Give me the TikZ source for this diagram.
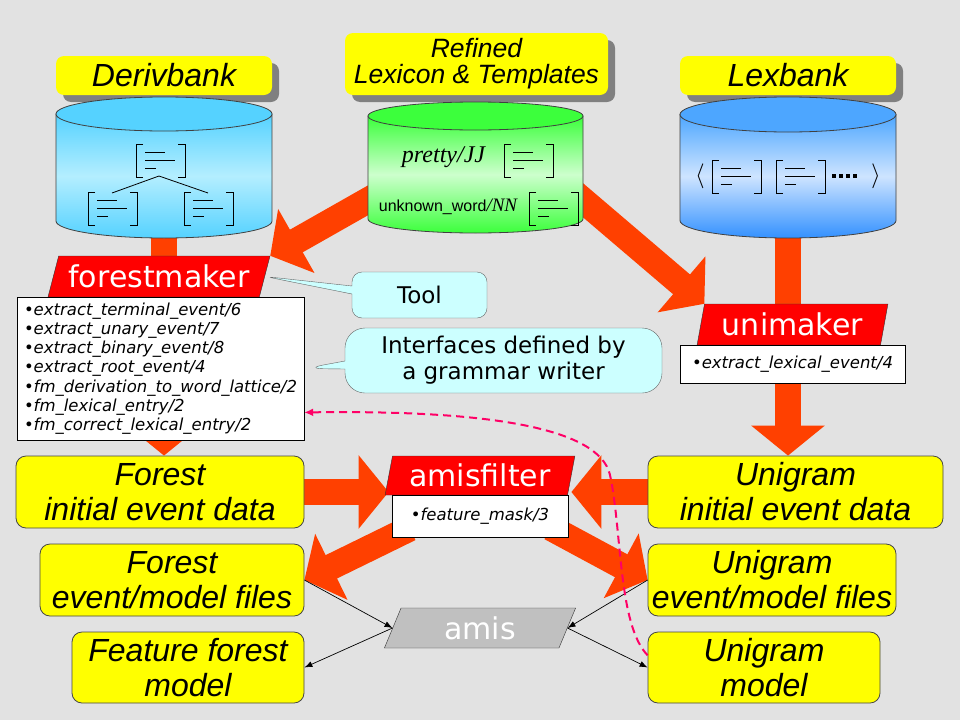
\documentclass[tikz,border=0pt]{standalone}
\usepackage{fontspec}
\setmainfont{Liberation Sans}
\newfontfamily\verdana{DejaVu Sans}
\newfontfamily\timesf{Liberation Serif}
\usetikzlibrary{arrows.meta,calc,positioning}
\usetikzlibrary{shapes.geometric,shapes.callouts,shadows}

\definecolor{bgray}{RGB}{226,226,226}
\definecolor{bigred}{RGB}{255,64,0}
\definecolor{tagred}{RGB}{255,0,0}
\definecolor{amisgray}{RGB}{192,192,192}
\definecolor{boxyellow}{RGB}{255,255,0}
\definecolor{boxborder}{RGB}{70,70,70}
\definecolor{notecyan}{RGB}{204,255,255}
\definecolor{dashpink}{RGB}{255,0,102}
\definecolor{shadowgray}{RGB}{128,128,128}
\definecolor{dbtop}{RGB}{85,210,255}
\definecolor{dbmid}{RGB}{180,238,255}
\definecolor{gtop}{RGB}{60,255,60}
\definecolor{gmid}{RGB}{205,255,205}
\definecolor{ltop}{RGB}{77,166,255}
\definecolor{lmid}{RGB}{206,228,255}
\definecolor{lbot}{RGB}{51,145,255}

\pgfdeclarelayer{back}
\pgfdeclarelayer{arrowlayer}
\pgfsetlayers{back,arrowlayer,main}

\begin{document}
\begin{tikzpicture}[x=1pt,y=-1pt,
avm/.pic={
 \draw[line width=1pt] (7,0) -- (0,0) -- (0,33) -- (7,33) (42,0) -- (49,0) -- (49,33) -- (42,33);
 \draw[line width=1pt] (9,8) -- (29,8) (9,16) -- (39,16) (9,24) -- (20,24);
},
titlebox/.style={fill=boxyellow,rounded corners=8pt,inner sep=0pt,
 font=\fontsize{32}{34}\selectfont\itshape,
 drop shadow={shadow xshift=7pt,shadow yshift=-7pt,fill=shadowgray,opacity=1}},
databox/.style={draw=boxborder,fill=boxyellow,rounded corners=10pt,line width=0.8pt,
 inner sep=0pt,align=center,font=\fontsize{32}{35}\selectfont\itshape},
tooltag/.style={trapezium,trapezium stretches=true,draw=black!80,fill=tagred,
 text=white,inner sep=0pt,font=\verdana\fontsize{30}{30}\selectfont},
listbox/.style={draw=black,fill=white,inner sep=0pt,align=left,
 font=\verdana\itshape\fontsize{16.5}{19.2}\selectfont},
note/.style={rectangle callout,draw=black!60,fill=notecyan,align=center,
 callout pointer width=8pt,font=\verdana\fontsize{23}{26}\selectfont},
bigarrow/.style={draw=bigred,line width=26pt,-{Triangle[length=30pt,width=72pt]}},
thinarrow/.style={draw=black,line width=0.7pt,-{Latex[length=8pt,width=6pt]}},
dashlink/.style={draw=dashpink,line width=2pt,dash pattern=on 8pt off 5pt,
 -{Latex[length=9pt,width=8pt]}}]
\useasboundingbox (0,0) rectangle (960,720);
\begin{pgfonlayer}{back}
\fill[bgray] (0,0) rectangle (960,720);
\end{pgfonlayer}

% databases
\node[titlebox,minimum width=216pt,minimum height=39pt] (derivlabel) at (164,75.5) {Derivbank};
\node[titlebox,minimum width=263pt,minimum height=62pt,align=center,
 font=\fontsize{26.5}{26}\selectfont\itshape] (reflabel) at (476.5,64) {Refined\\Lexicon \& Templates};
\node[titlebox,minimum width=216pt,minimum height=39pt] (lexlabel) at (788,75.5) {Lexbank};

\node[inner sep=0pt,minimum width=216pt,minimum height=141pt] (derivdb) at (164,167.5) {};
\node[inner sep=0pt,minimum width=215pt,minimum height=131pt] (refdb) at (475.5,167.5) {};
\node[inner sep=0pt,minimum width=216pt,minimum height=141pt] (lexdb) at (788,167.5) {};

\draw[black!75,line width=0.8pt,top color=dbtop,bottom color=dbtop,middle color=dbmid]
 (56,114) -- (56,221) arc[start angle=180,end angle=360,x radius=108pt,y radius=17pt] -- (272,114) -- cycle;
\draw[black!75,line width=0.8pt,fill=dbtop] (164,114) ellipse [x radius=108pt,y radius=17pt];
\draw[black!75,line width=0.8pt,top color=gtop,bottom color=gtop,middle color=gmid]
 (368,116) -- (368,219) arc[start angle=180,end angle=360,x radius=107.5pt,y radius=14pt] -- (583,116) -- cycle;
\draw[black!75,line width=0.8pt,fill=gtop] (475.5,116) ellipse [x radius=107.5pt,y radius=14pt];
\draw[black!75,line width=0.8pt,top color=ltop,bottom color=lbot,middle color=lmid]
 (680,114.5) -- (680,220.5) arc[start angle=180,end angle=360,x radius=108pt,y radius=17.5pt] -- (896,114.5) -- cycle;
\draw[black!75,line width=0.8pt,fill=ltop] (788,114.5) ellipse [x radius=108pt,y radius=17.5pt];

\pic at (136,144) {avm};
\pic at (88,192) {avm};
\pic at (184,192) {avm};
\coordinate (treetop) at (159,176);
\coordinate (treel) at (112,193);
\coordinate (treer) at (208,193);
\draw[line width=0.8pt] (treel) -- (treetop) -- (treer);

\node[font=\timesf\itshape\fontsize{24}{24}\selectfont] (pretty) at (443.5,157) {pretty/JJ};
\pic at (504,144) {avm};
\node (unknown) at (448,207) {{\fontsize{16}{16}\selectfont unknown\_word}{\timesf\itshape\fontsize{19}{19}\selectfont /NN}};
\pic at (529,192) {avm};

\node[font=\fontsize{24}{24}\selectfont] (lopen) at (700,176) {$\langle$};
\pic at (712,160) {avm};
\pic at (776,160) {avm};
\foreach \i in {0,...,3}
 \fill (832+7*\i,174) rectangle ++(4,4);
\node[font=\fontsize{24}{24}\selectfont] (lclose) at (876,176) {$\rangle$};

% data boxes
\node[databox,minimum width=288pt,minimum height=72pt] (fi) at (160,492) {Forest\\initial event data};
\node[databox,minimum width=264pt,minimum height=72pt] (ffiles) at (172,580) {Forest\\event/model files};
\node[databox,minimum width=232pt,minimum height=71pt] (ffmodel) at (188,667.5) {Feature forest\\model};
\node[databox,minimum width=295pt,minimum height=72pt] (ui) at (795.5,492) {Unigram\\initial event data};
\node[databox,minimum width=248pt,minimum height=72pt] (ufiles) at (772,580) {Unigram\\event/model files};
\node[databox,minimum width=232pt,minimum height=71pt] (umodel) at (764,667.5) {Unigram\\model};

% tools
\node[tooltag,minimum width=222pt,minimum height=41pt,trapezium left angle=67.5,
 trapezium right angle=112.5] (fm) at (159,276.5) {forestmaker};
\node[listbox,minimum width=287pt,minimum height=143pt] (fmlist) at (160.5,368.5)
 {\textbullet extract\_terminal\_event/6\\
  \textbullet extract\_unary\_event/7\\
  \textbullet extract\_binary\_event/8\\
  \textbullet extract\_root\_event/4\\
  \textbullet fm\_derivation\_to\_word\_lattice/2\\
  \textbullet fm\_lexical\_entry/2\\
  \textbullet fm\_correct\_lexical\_entry/2};
\node[tooltag,minimum width=191pt,minimum height=41pt,trapezium left angle=75.6,
 trapezium right angle=104.4] (um) at (792.5,324.5) {unimaker};
\node[listbox,minimum width=225pt,minimum height=38pt] (umlist) at (792.5,364)
 {\textbullet extract\_lexical\_event/4};
\node[tooltag,minimum width=190pt,minimum height=39pt,trapezium left angle=75.6,
 trapezium right angle=104.4] (af) at (480,475.5) {amisfilter};
\node[listbox,minimum width=176pt,minimum height=42pt] (aflist) at (480,516)
 {\textbullet feature\_mask/3};
\node[tooltag,fill=amisgray,minimum width=192pt,minimum height=40pt,trapezium left angle=72,
 trapezium right angle=108] (amis) at (480,628) {amis};

% notes
\node[note,rounded corners=10pt,minimum width=135pt,minimum height=46pt,
 callout absolute pointer={(fm.east)}] (tool) at (419.5,295) {Tool};
\node[note,rounded corners=20pt,minimum width=317pt,minimum height=65pt,
 callout absolute pointer={(fmlist.east)}] (iface) at (503.5,360.5) {Interfaces defined by\\a grammar writer};

% flows
\begin{pgfonlayer}{arrowlayer}
\draw[bigarrow] (derivdb.south) -- (derivdb.south |- fi.north);
\draw[bigarrow] (lexdb.south) -- (lexdb.south |- ui.north);
\draw[bigarrow,shorten <=-15pt] (refdb.197) -- (fm.top right corner);
\draw[bigarrow,shorten <=-15pt] (refdb.-17) -- (um.top left corner);
\draw[bigarrow] (fi.east) -- (fi.east -| af.west);
\draw[bigarrow] (ui.west) -- (ui.west -| af.east);
\draw[bigarrow,shorten <=-20pt] (aflist.south west) -- (ffiles.east);
\draw[bigarrow,shorten <=-20pt] (aflist.south east) -- (ufiles.west);
\end{pgfonlayer}

\draw[thinarrow] (ffiles.east) -- (amis.west);
\draw[thinarrow] (amis.west) -- (ffmodel.east);
\draw[thinarrow] (ufiles.west) -- (amis.east);
\draw[thinarrow] (amis.east) -- (umodel.west);

\draw[dashlink] (umodel.174) .. controls (618,625) and (622,530) .. (610,475)
 .. controls (599,426) and (480,410) .. (fmlist.-17);
\end{tikzpicture}
\end{document}
